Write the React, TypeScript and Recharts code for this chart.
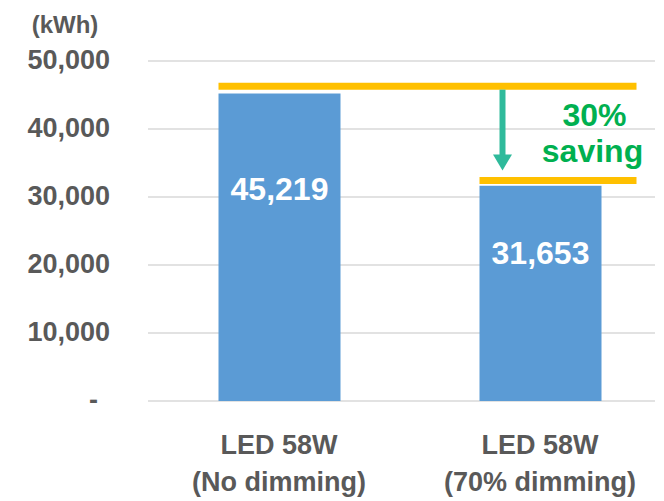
import React from "react";
import { BarChart, Bar, XAxis, YAxis, CartesianGrid, LabelList } from "recharts";

// ---- data ----
const categoryTitles = ["LED 58W", "LED 58W"];
const categorySubtitles = ["(No dimming)", "(70% dimming)"];
const energyKWh = [45219, 31653];
const guideLevels = [46300, 32430]; // orange guide lines (kWh)
const yTicks = [0, 10000, 20000, 30000, 40000, 50000];
const unitLabel = "(kWh)";
const savingText = ["30%", "saving"];

const data = categoryTitles.map((t, i) => ({
  name: `${t} ${categorySubtitles[i]}`,
  kwh: energyKWh[i],
  guide: guideLevels[i],
}));

// ---- layout ----
const W = 664;
const H = 501;
const MARGIN = { top: 61, right: 9, bottom: 0, left: 0 };
const Y_W = 148;
const X_H = 100;
const PAD = { left: 0.5, right: -15.5 };
const STEP = (W - MARGIN.left - MARGIN.right - Y_W - PAD.left - PAD.right) / data.length;

const FONT = '"Liberation Sans", Arial, sans-serif';
const GREY = "#595959";
const BLUE = "#5B9BD5";
const ORANGE = "#FFC000";
const TEAL = "#2FBA9B";
const GREEN = "#00B050";

const fmt = (v: number) => v.toLocaleString("en-US");

const YTick = (props: any) => {
  const { x, y, payload } = props;
  const v = payload.value;
  return (
    <text
      x={v === 0 ? x - 12 : x}
      y={y - 2}
      dy="0.355em"
      textAnchor="end"
      fill={GREY}
      fontFamily={FONT}
      fontWeight="bold"
      fontSize={27}
    >
      {v === 0 ? "-" : fmt(v)}
    </text>
  );
};

const XTick = (props: any) => {
  const { x, y, index } = props;
  return (
    <g>
      <text x={x} y={y + 53} textAnchor="middle" fill={GREY} fontFamily={FONT} fontWeight="bold" fontSize={27}>
        {categoryTitles[index]}
      </text>
      <text x={x} y={y + 90} textAnchor="middle" fill={GREY} fontFamily={FONT} fontWeight="bold" fontSize={27}>
        {categorySubtitles[index]}
      </text>
    </g>
  );
};

const BarShape = (props: any) => {
  const { x, y, width, height, index, payload } = props;
  const n = data.length;
  const ppu = height / payload.kwh;
  const base = y + height;
  const lastRight = x + (n - 1 - index) * STEP + width;
  const lineEnd = lastRight + 35;
  const gy = base - payload.guide * ppu;
  const parts: React.ReactNode[] = [
    <rect key="r" x={x} y={y} width={width} height={height} fill={BLUE} />,
    <line key="g" x1={x} x2={lineEnd} y1={gy} y2={gy} stroke={ORANGE} strokeWidth={7} />,
  ];
  if (index === n - 1 && n > 1) {
    const gyPrev = base - data[index - 1].guide * ppu;
    const ax = x + 23;
    const tip = gy - 10;
    parts.push(
      <line key="s" x1={ax} x2={ax} y1={gyPrev + 3.5} y2={tip - 12} stroke={TEAL} strokeWidth={6} />,
      <polygon key="h" points={`${ax - 9.5},${tip - 16} ${ax + 9.5},${tip - 16} ${ax},${tip}`} fill={TEAL} />,
      <text key="t1" x={x + width - 7} y={gy - 54} textAnchor="middle" fill={GREEN} fontFamily={FONT} fontWeight="bold" fontSize={32}>
        {savingText[0]}
      </text>,
      <text key="t2" x={x + width - 9} y={gy - 18.5} textAnchor="middle" fill={GREEN} fontFamily={FONT} fontWeight="bold" fontSize={32}>
        {savingText[1]}
      </text>
    );
  }
  return <g>{parts}</g>;
};

const ValueLabel = (props: any) => {
  const { x, y, width, height, value } = props;
  return (
    <text
      x={x + width / 2}
      y={y + height * 0.31}
      dy="0.36em"
      textAnchor="middle"
      fill="#FFFFFF"
      fontFamily={FONT}
      fontWeight="bold"
      fontSize={32}
    >
      {fmt(value)}
    </text>
  );
};

export default function App() {
  return (
    <div style={{ position: "absolute", left: 0, top: 0, width: W, height: H, background: "#fff", overflow: "hidden" }}>
      <BarChart width={W} height={H} data={data} margin={MARGIN}>
        <CartesianGrid horizontal vertical={false} stroke="#D9D9D9" strokeWidth={1.5} />
        <XAxis
          dataKey="name"
          axisLine={false}
          tickLine={false}
          tickSize={0}
          tickMargin={0}
          height={X_H}
          padding={PAD as any}
          interval={0}
          tick={<XTick />}
        />
        <YAxis
          domain={[0, 50000]}
          ticks={yTicks}
          axisLine={false}
          tickLine={false}
          tickSize={0}
          tickMargin={38}
          width={Y_W}
          tick={<YTick />}
          label={{
            content: () => (
              <text x={65} y={33} textAnchor="middle" fill={GREY} fontFamily={FONT} fontWeight="bold" fontSize={24}>
                {unitLabel}
              </text>
            ),
          }}
        />
        <Bar dataKey="kwh" barSize={122} shape={BarShape} isAnimationActive={false}>
          <LabelList dataKey="kwh" content={ValueLabel} />
        </Bar>
      </BarChart>
    </div>
  );
}
